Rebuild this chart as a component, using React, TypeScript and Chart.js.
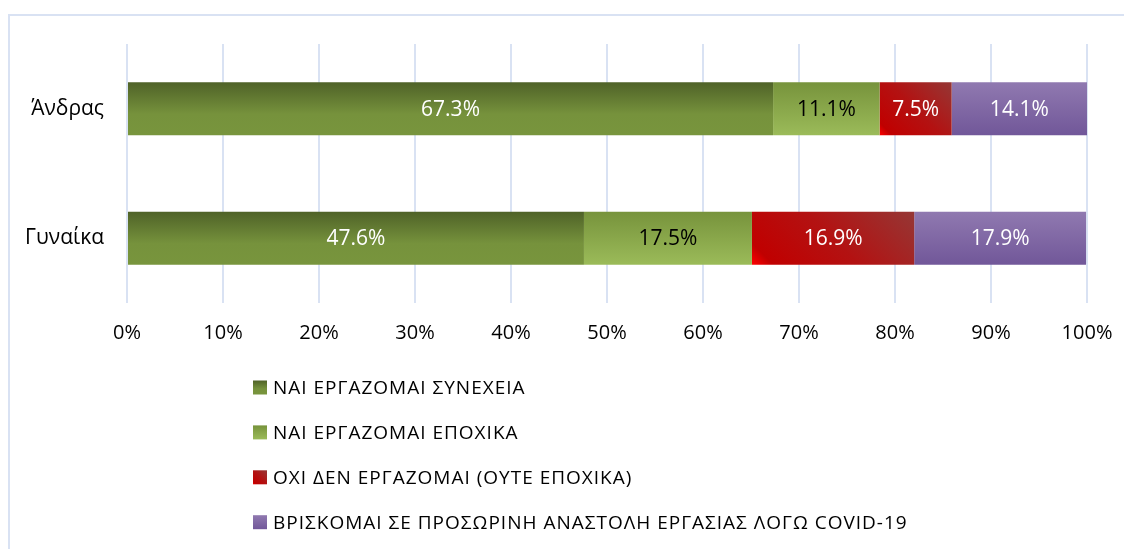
import { useEffect, useRef } from "react";
import { Chart, registerables } from "chart.js";

Chart.register(...registerables);

const categories = ["Άνδρας", "Γυναίκα"];
const seriesNames = [
  "ΝΑΙ ΕΡΓΑΖΟΜΑΙ ΣΥΝΕΧΕΙΑ",
  "ΝΑΙ ΕΡΓΑΖΟΜΑΙ ΕΠΟΧΙΚΑ",
  "ΟΧΙ ΔΕΝ ΕΡΓΑΖΟΜΑΙ (ΟΥΤΕ ΕΠΟΧΙΚΑ)",
  "ΒΡΙΣΚΟΜΑΙ ΣΕ ΠΡΟΣΩΡΙΝΗ ΑΝΑΣΤΟΛΗ ΕΡΓΑΣΙΑΣ ΛΟΓΩ COVID-19",
];
const workContinuous = [67.3, 47.6];
const workSeasonal = [11.1, 17.5];
const notWorking = [7.5, 16.9];
const suspendedCovid = [14.1, 17.9];
const seriesValues = [workContinuous, workSeasonal, notWorking, suspendedCovid];
const xTickValues = [0, 10, 20, 30, 40, 50, 60, 70, 80, 90, 100];

const FONT = "'Open Sans', 'DejaVu Sans', sans-serif";
const BAR_PCT = 0.41;

type Stop = [number, string];
type Grad = { dir: "v" | "d"; stops: Stop[]; solid: string; label: string };
const styles: Grad[] = [
  {
    dir: "v",
    stops: [
      [0, "#4f6228"],
      [0.6, "#76923c"],
      [1, "#78953d"],
    ],
    solid: "#6b8735",
    label: "#ffffff",
  },
  {
    dir: "v",
    stops: [
      [0, "#77933c"],
      [1, "#9bbb59"],
    ],
    solid: "#8aaa4c",
    label: "#000000",
  },
  {
    dir: "d",
    stops: [
      [0, "#ff0000"],
      [0.1, "#c00000"],
      [0.5, "#b31212"],
      [1, "#953735"],
    ],
    solid: "#c00000",
    label: "#ffffff",
  },
  {
    dir: "v",
    stops: [
      [0, "#9079b0"],
      [1, "#715799"],
    ],
    solid: "#8064a2",
    label: "#ffffff",
  },
];

function makeGradient(
  ctx: CanvasRenderingContext2D,
  x0: number,
  y0: number,
  x1: number,
  y1: number,
  g: Grad
) {
  let gr: CanvasGradient;
  if (g.dir === "v") {
    gr = ctx.createLinearGradient(0, y0, 0, y1);
  } else {
    const d = (x1 - x0 + (y1 - y0)) / 2;
    gr = ctx.createLinearGradient(x0, y1, x0 + d, y1 - d);
  }
  g.stops.forEach(([o, c]) => gr.addColorStop(o, c));
  return gr;
}

function barFill(c: any, di: number) {
  const chart = c.chart;
  const xs = chart.scales?.x;
  const ys = chart.scales?.y;
  if (!chart.chartArea || !xs || !ys || c.type !== "data") return styles[di].solid;
  const i = c.dataIndex;
  let start = 0;
  for (let k = 0; k < di; k++) start += seriesValues[k][i];
  const end = start + seriesValues[di][i];
  const x0 = xs.getPixelForValue(start);
  const x1 = xs.getPixelForValue(end);
  const yc = ys.getPixelForValue(i);
  const half = ((ys.height / categories.length) * BAR_PCT) / 2;
  return makeGradient(chart.ctx, x0, yc - half, x1, yc + half, styles[di]);
}

const dataLabelPlugin = {
  id: "dataLabels",
  afterDatasetsDraw(chart: any) {
    const ctx = chart.ctx as CanvasRenderingContext2D;
    ctx.save();
    ctx.font = `21px ${FONT}`;
    ctx.textAlign = "center";
    ctx.textBaseline = "middle";
    chart.data.datasets.forEach((ds: any, di: number) => {
      const meta = chart.getDatasetMeta(di);
      meta.data.forEach((el: any, i: number) => {
        const v = ds.data[i];
        const cx = (el.x + el.base) / 2;
        ctx.fillStyle = styles[di].label;
        ctx.fillText(v.toFixed(1) + "%", cx, el.y + 1);
      });
    });
    ctx.restore();
  },
};

const legendPlugin = {
  id: "customLegend",
  afterDraw(chart: any) {
    const ctx = chart.ctx as any;
    const area = chart.chartArea;
    const boxX = 243;
    const box = 14;
    const textX = 263;
    const firstY = area.bottom + 84.5;
    const step = 44.9;
    ctx.save();
    ctx.font = `19px ${FONT}`;
    ctx.letterSpacing = "1px";
    ctx.textAlign = "left";
    ctx.textBaseline = "middle";
    seriesNames.forEach((name, i) => {
      const cy = firstY + i * step;
      const y0 = cy - box / 2;
      ctx.fillStyle = makeGradient(ctx, boxX, y0, boxX + box, y0 + box, styles[i]);
      ctx.fillRect(boxX, y0, box, box);
      ctx.fillStyle = "#000000";
      ctx.fillText(name, textX, cy + 1);
    });
    ctx.restore();
  },
};

export default function App() {
  const ref = useRef<HTMLCanvasElement>(null);
  useEffect(() => {
    document.body.style.overflow = "hidden";
    const chart = new Chart(ref.current!, {
      type: "bar",
      data: {
        labels: categories,
        datasets: seriesValues.map((vals, di) => ({
          label: seriesNames[di],
          data: vals,
          backgroundColor: (c: any) => barFill(c, di),
          borderWidth: 0,
          categoryPercentage: 1,
          barPercentage: BAR_PCT,
          inflateAmount: 0,
        })),
      },
      options: {
        indexAxis: "y",
        animation: false,
        responsive: true,
        maintainAspectRatio: false,
        layout: { padding: { left: 0, right: 45, top: 28, bottom: 186 } },
        plugins: {
          legend: { display: false },
          tooltip: { enabled: false },
        },
        scales: {
          x: {
            stacked: true,
            min: 0,
            max: 100,
            afterBuildTicks: (scale: any) => {
              scale.ticks = xTickValues.map((v) => ({ value: v }));
            },
            afterFit: (scale: any) => {
              scale.height = 60;
            },
            ticks: {
              callback: (v: any) => v + "%",
              font: { family: FONT, size: 20 },
              color: "#000000",
              padding: 18,
              maxRotation: 0,
            },
            grid: { color: "#d9e2f3", lineWidth: 2, drawTicks: false },
            border: { display: false },
          },
          y: {
            stacked: true,
            afterFit: (scale: any) => {
              scale.width = 117;
              scale.paddingTop = 0;
              scale.paddingBottom = 0;
            },
            ticks: {
              font: { family: FONT, size: 21 },
              color: "#000000",
              padding: 23,
            },
            grid: { display: false, drawTicks: false },
            border: { display: false },
          },
        },
      },
      plugins: [dataLabelPlugin, legendPlugin],
    } as any);
    return () => chart.destroy();
  }, []);
  return (
    <div style={{ paddingTop: 6 }}>
      <div
        style={{
          width: 1124,
          height: 535,
          borderTop: "2px solid #d9e2f3",
          borderLeft: "2px solid #d9e2f3",
          boxSizing: "border-box",
        }}
      >
        <div style={{ width: 1122, height: 533, position: "relative" }}>
          <canvas ref={ref} />
        </div>
      </div>
    </div>
  );
}
